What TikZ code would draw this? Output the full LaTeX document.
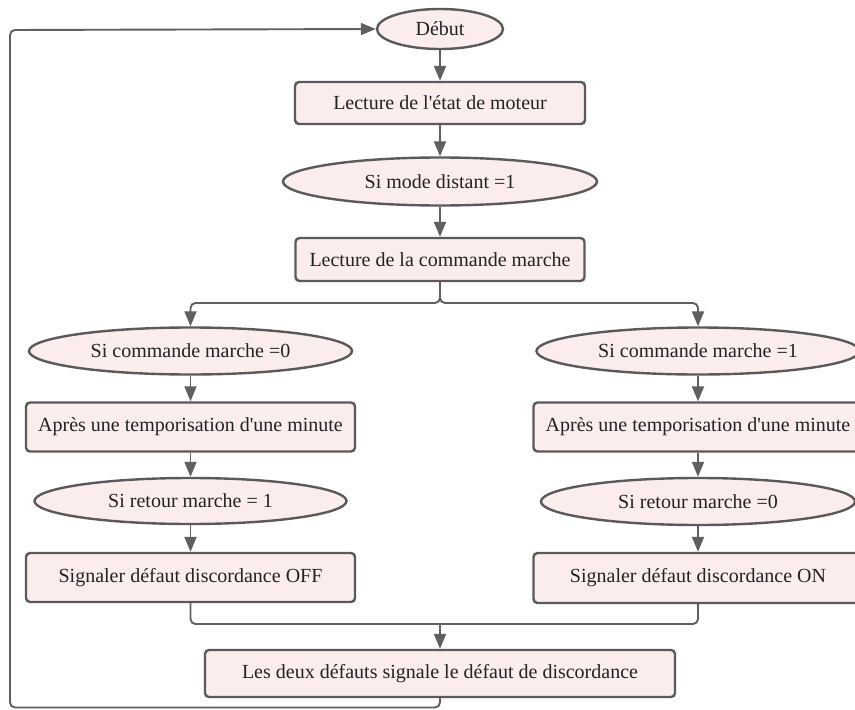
\documentclass[tikz,border=0pt]{standalone}
\usepackage{fontspec}
\setmainfont{Liberation Serif}
\usetikzlibrary{shapes.geometric,arrows.meta}
\definecolor{stepfill}{HTML}{FCEDED}
\definecolor{stepline}{HTML}{5A5A5A}
\definecolor{linkline}{HTML}{606060}
\definecolor{labeltext}{HTML}{222222}
\newcommand{\apos}{\textquotesingle}
\tikzset{
  base/.style={draw=stepline, line width=2.4pt, fill=stepfill, text=labeltext,
    font=\fontsize{20}{24}\selectfont, inner sep=0pt, anchor=center},
  stepbox/.style={base, rectangle, rounded corners=4pt},
  decision/.style={base, ellipse},
  link/.style={draw=linkline, line width=1.9pt, rounded corners=5pt,
    -{Triangle[length=15pt,width=12pt]}},
  plainlink/.style={draw=linkline, line width=1.9pt, rounded corners=5pt}
}
\begin{document}
\begin{tikzpicture}[x=1pt,y=-1pt]
\clip (0,0) rectangle (855,710);
\fill[white] (0,0) rectangle (855,710);

% main column
\node[decision, minimum width=126pt, minimum height=40pt] (debut) at (440,29) {Début};
\node[stepbox, minimum width=290pt, minimum height=42pt] (etat) at (440,103) {Lecture de l\apos état de moteur};
\node[decision, minimum width=314pt, minimum height=48pt] (distant) at (440,181.5) {Si mode distant =1};
\node[stepbox, minimum width=289pt, minimum height=43pt] (cmd) at (440,259.5) {Lecture de la commande marche};

% left branch
\node[decision, minimum width=323pt, minimum height=47pt] (cmdA) at (190.5,351) {Si commande marche =0};
\node[stepbox, minimum width=329pt, minimum height=49pt] (tempoA) at (190.5,427) {Après une temporisation d\apos une minute};
\node[decision, minimum width=312pt, minimum height=46pt] (retA) at (190.5,501) {Si retour marche = 1};
\node[stepbox, minimum width=329pt, minimum height=49pt] (defA) at (190.5,577.5) {Signaler défaut discordance OFF};

% right branch
\node[decision, minimum width=323pt, minimum height=47pt] (cmdB) at (698,351) {Si commande marche =1};
\node[stepbox, minimum width=329pt, minimum height=49pt] (tempoB) at (698,427) {Après une temporisation d\apos une minute};
\node[decision, minimum width=314pt, minimum height=47pt] (retB) at (698,501.5) {Si retour marche =0};
\node[stepbox, minimum width=329pt, minimum height=50pt] (defB) at (698,578) {Signaler défaut discordance ON};

% merged result
\node[stepbox, minimum width=470pt, minimum height=47pt] (final) at (440,673.5) {Les deux défauts signale le défaut de discordance};

% connectors
\coordinate (split) at (440,303);
\coordinate (merge) at (440,624);
\coordinate (loopR) at (440,707.5);
\coordinate (loopL) at (10,707.5);
\coordinate (loopT) at (10,30);

\draw[link] (debut) -- (etat);
\draw[link] (etat) -- (distant);
\draw[link] (distant) -- (cmd);
\draw[link] (cmd.south) -- (split) -| (cmdA.north);
\draw[link] (cmd.south) -- (split) -| (cmdB.north);
\draw[link] (cmdA) -- (tempoA);
\draw[link] (tempoA) -- (retA);
\draw[link] (retA) -- (defA);
\draw[link] (cmdB) -- (tempoB);
\draw[link] (tempoB) -- (retB);
\draw[link] (retB) -- (defB);
\draw[plainlink] (defA.south) |- (merge);
\draw[plainlink] (defB.south) |- (merge);
\draw[link] (merge) -- (final.north);
\draw[link] (final.south) -- (loopR) -- (loopL) -- (loopT) -- (debut.west);
\end{tikzpicture}
\end{document}
